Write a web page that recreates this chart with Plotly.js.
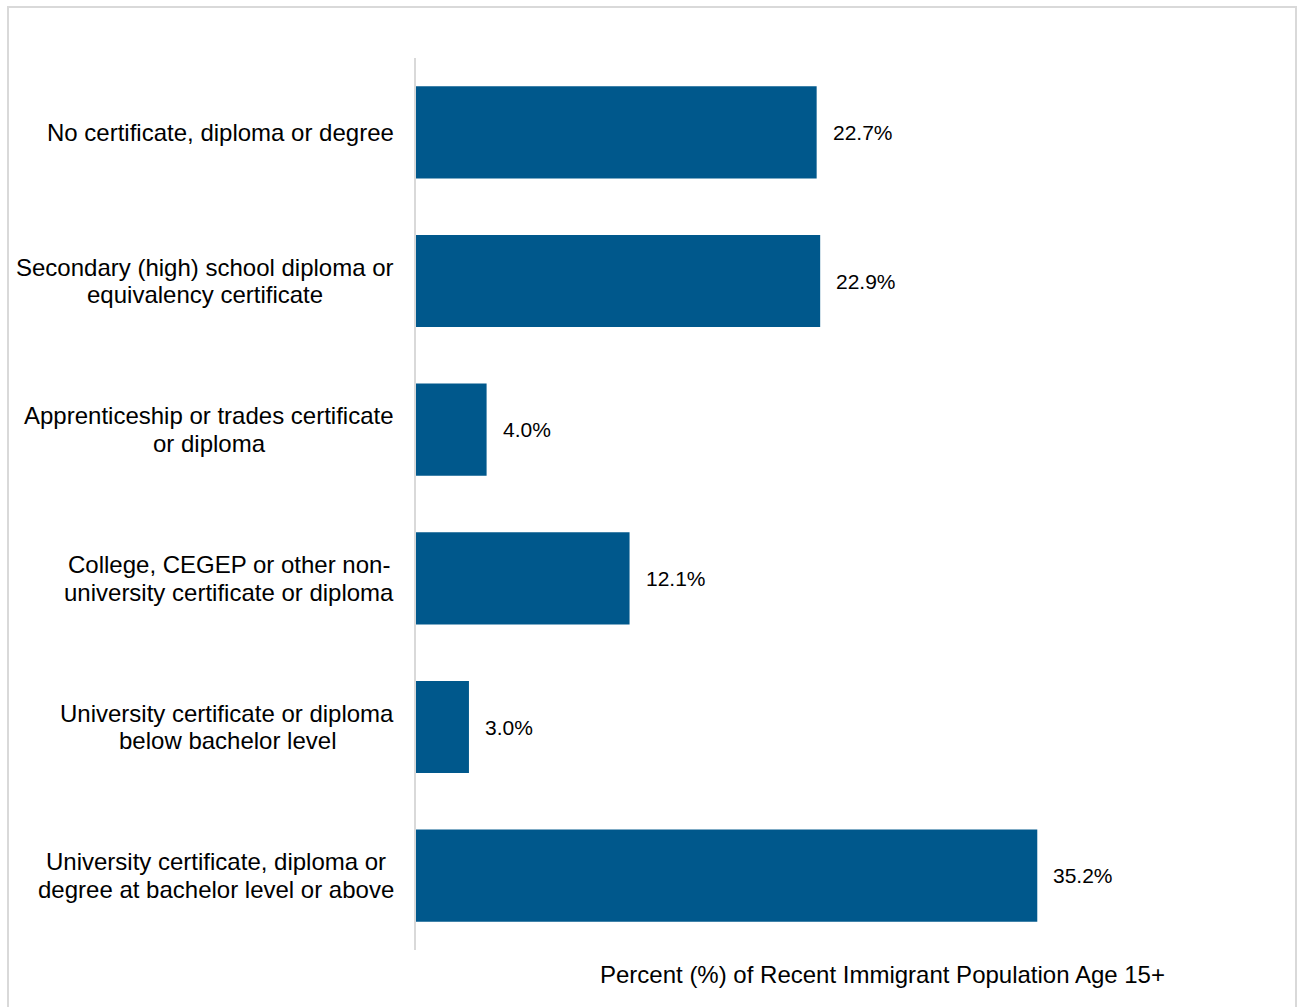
<!DOCTYPE html>
<html>
<head>
<meta charset="utf-8">
<script src="https://cdn.plot.ly/plotly-3.0.1.min.js"></script>
<style>html,body{margin:0;padding:0;background:#fff;}#chart{width:1297px;height:1007px;}</style>
</head>
<body>
<div id="chart"></div>
<script>
const categories = [
  "No certificate, diploma or degree",
  "Secondary (high) school diploma or<br>equivalency certificate",
  "Apprenticeship or trades certificate<br>or diploma",
  "College, CEGEP or other non-<br>university certificate or diploma",
  "University certificate or diploma<br>below bachelor level",
  "University certificate, diploma or<br>degree at bachelor level or above"
];
const values = [22.7, 22.9, 4.0, 12.1, 3.0, 35.2];
const valueLabels = ["22.7%", "22.9%", "4.0%", "12.1%", "3.0%", "35.2%"];
const xTitle = "Percent (%) of Recent Immigrant Population Age 15+";

const W = 1297, H = 1007;
const L = 416, R = 1122, T = 58, B = 950;
const px = p => (p - L) / (R - L);
const py = p => (B - p) / (B - T);
const FONT = 'Liberation Sans, Arial, sans-serif';
const LABEL_SIZE = 24, LINE_GAP = 27.5, LABEL_RIGHT = 394;

const ctx = document.createElement('canvas').getContext('2d');
ctx.font = LABEL_SIZE + 'px "Liberation Sans", Arial, sans-serif';

const annotations = [];
categories.forEach((c, i) => {
  const lines = c.split('<br>');
  const maxW = Math.max(...lines.map(s => ctx.measureText(s).width));
  const cx = LABEL_RIGHT - maxW / 2;
  lines.forEach((s, k) => {
    annotations.push({
      x: px(cx), xref: 'paper', y: i, yref: 'y', text: s, showarrow: false,
      xanchor: 'center', yanchor: 'middle',
      yshift: -(k - (lines.length - 1) / 2) * LINE_GAP,
      font: {family: FONT, size: LABEL_SIZE, color: '#000'}
    });
  });
  annotations.push({
    x: values[i], xref: 'x', y: i, yref: 'y', text: valueLabels[i], showarrow: false,
    xanchor: 'left', yanchor: 'middle', xshift: 14,
    font: {family: FONT, size: 21, color: '#000'}
  });
});
annotations.push({
  x: px(882), xref: 'paper', y: py(975), yref: 'paper', text: xTitle, showarrow: false,
  xanchor: 'center', yanchor: 'middle',
  font: {family: FONT, size: 24, color: '#000'}
});

const data = [{
  type: 'bar', orientation: 'h',
  x: values, y: categories.map((c, i) => i),
  marker: {color: '#00588c'}, width: 0.62, hoverinfo: 'skip'
}];

const layout = {
  width: W, height: H,
  margin: {l: L, r: W - R, t: T, b: H - B, pad: 0},
  paper_bgcolor: '#fff', plot_bgcolor: '#fff',
  showlegend: false,
  xaxis: {range: [0, 40], showgrid: false, zeroline: false, showticklabels: false, ticks: '', showline: false},
  yaxis: {range: [5.5, -0.5], showgrid: false, zeroline: false, showticklabels: false, ticks: '',
          showline: true, linecolor: '#d9d9d9', linewidth: 2},
  annotations: annotations,
  shapes: [{
    type: 'rect', xref: 'paper', yref: 'paper',
    x0: px(8), x1: px(1296), y0: py(1012), y1: py(7),
    line: {color: '#d9d9d9', width: 2}, fillcolor: 'rgba(0,0,0,0)', layer: 'below'
  }]
};

Plotly.newPlot('chart', data, layout, {displayModeBar: false, staticPlot: true});
</script>
</body>
</html>
